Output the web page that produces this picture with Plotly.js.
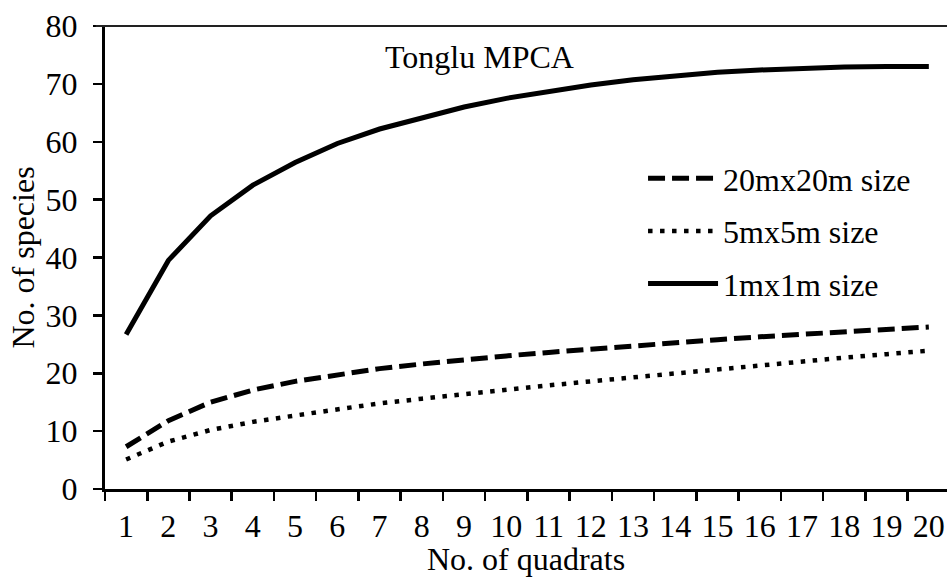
<!DOCTYPE html>
<html>
<head>
<meta charset="utf-8">
<script src="https://cdn.plot.ly/plotly-3.0.1.min.js"></script>
<style>html,body{margin:0;padding:0;background:#fff}#chart{width:947px;height:577px}</style>
</head>
<body>
<div id="chart"></div>
<script>
var quadrats = ["1","2","3","4","5","6","7","8","9","10","11","12","13","14","15","16","17","18","19","20"];
var size20m = [7.3, 11.8, 15.0, 17.1, 18.6, 19.8, 20.8, 21.6, 22.4, 23.0, 23.6, 24.2, 24.8, 25.3, 25.8, 26.3, 26.7, 27.2, 27.6, 28.0];
var size5m = [5.1, 8.2, 10.2, 11.6, 12.7, 13.8, 14.8, 15.6, 16.4, 17.1, 17.9, 18.6, 19.3, 20.0, 20.7, 21.4, 22.1, 22.7, 23.3, 23.9];
var size1m = [26.7, 39.5, 47.2, 52.5, 56.4, 59.7, 62.2, 64.2, 66.0, 67.5, 68.7, 69.8, 70.7, 71.4, 72.0, 72.4, 72.7, 72.9, 73.0, 73.0];
var seriesNames = ["20mx20m size", "5mx5m size", "1mx1m size"];
var yTicks = [0,10,20,30,40,50,60,70,80];

var FONT = "Liberation Serif";
var FS = 32;

var traces = [
  {x: quadrats, y: size20m, name: seriesNames[0], mode: "lines", legendgroup: "a",
   line: {color: "#000", width: 5, dash: "17px,7px"}},
  {x: quadrats, y: size5m, name: seriesNames[1], mode: "lines", legendgroup: "b",
   line: {color: "#000", width: 4.5, dash: "4.5px,7.5px"}},
  {x: quadrats, y: size1m, name: seriesNames[2], mode: "lines", legendgroup: "c",
   line: {color: "#000", width: 5}}
];

var layout = {
  width: 947, height: 577,
  margin: {l: 105, r: 0, t: 26, b: 88},
  paper_bgcolor: "#fff", plot_bgcolor: "#fff",
  font: {family: FONT, size: FS, color: "#000"},
  showlegend: true,
  legend: {x: 0.639, y: 0.73, xanchor: "left", yanchor: "top",
           traceorder: "grouped", tracegroupgap: 8, itemwidth: 70,
           font: {family: FONT, size: FS, color: "#000"}, bgcolor: "rgba(0,0,0,0)"},
  xaxis: {
    type: "category", range: [-0.5, 19.43], tickson: "boundaries",
    ticks: "outside", ticklen: 9, tickwidth: 2.5, tickcolor: "#000", tickangle: 0,
    ticklabelstandoff: 7,
    showline: true, linewidth: 3, linecolor: "#000", showgrid: false, zeroline: false,
    tickfont: {family: FONT, size: FS, color: "#000"},
    title: {text: "No. of quadrats", font: {family: FONT, size: FS, color: "#000"}, standoff: 2}
  },
  yaxis: {
    range: [0, 80], tickvals: yTicks,
    ticks: "outside", ticklen: 9, tickwidth: 2.5, tickcolor: "#000",
    ticklabelstandoff: 9,
    showline: true, linewidth: 3, linecolor: "#000", showgrid: false, zeroline: false,
    tickfont: {family: FONT, size: FS, color: "#000"},
    title: {text: "No. of species", font: {family: FONT, size: FS, color: "#000"}, standoff: 2}
  },
  shapes: [
    {type: "line", xref: "paper", yref: "paper", x0: -0.011, x1: 1, y0: 1, y1: 1,
     line: {color: "#222", width: 2}}
  ],
  annotations: [
    {text: "Tonglu MPCA", xref: "paper", yref: "paper", x: 0.445, y: 0.933,
     xanchor: "center", yanchor: "middle",
     showarrow: false, font: {family: FONT, size: FS, color: "#000"}}
  ]
};

Plotly.newPlot("chart", traces, layout, {displayModeBar: false, staticPlot: true});
</script>
</body>
</html>
